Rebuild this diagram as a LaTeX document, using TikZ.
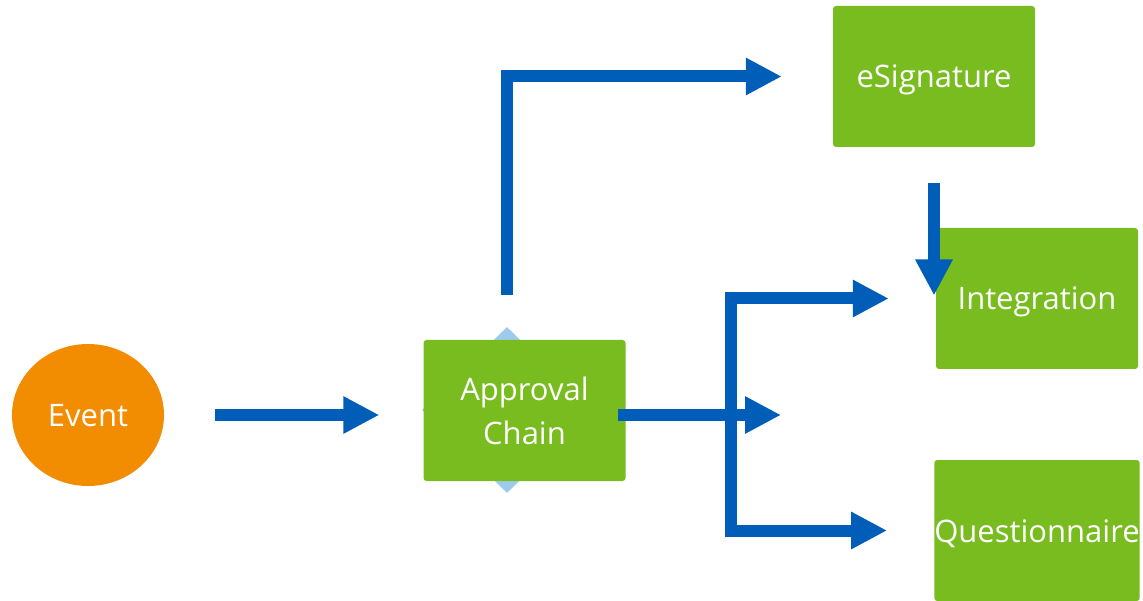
\documentclass[tikz,border=0pt]{standalone}
\usepackage{fontspec}
\setmainfont{Open Sans}
\usetikzlibrary{arrows.meta,shapes.geometric}
\definecolor{boxgreen}{RGB}{120,188,32}
\definecolor{evorange}{RGB}{242,140,0}
\definecolor{flowblue}{RGB}{0,94,184}
\definecolor{paleblue}{RGB}{157,203,238}

\begin{document}
\begin{tikzpicture}[x=1pt,y=-1pt,
  box/.style={rectangle,fill=boxgreen,rounded corners=3pt,minimum width=202pt,minimum height=141pt,inner sep=0pt,text=white,font=\fontsize{31}{44}\selectfont,align=center},
  oneline/.style={text height=31pt,text depth=8pt},
  flow/.style={draw=flowblue,line width=12pt,-{Triangle[length=36pt,width=35pt]}}]
\useasboundingbox (0,0) rectangle (1143,601);

% shapes
\node[ellipse,oneline,fill=evorange,minimum width=152pt,minimum height=142pt,inner sep=0pt,text=white,font=\fontsize{31}{44}\selectfont] (event) at (88,415) {Event};
\node[diamond,fill=paleblue,minimum width=170pt,minimum height=166pt,inner sep=0pt] (chaindia) at (507,410) {};
\node[box] (chain) at (524.5,410.5) {Approval\\Chain};
\node[box,oneline] (esign) at (934,76.5) {eSignature};
\node[box,oneline] (integ) at (1037,298.5) {Integration};
\node[box,oneline] (quest) at (1037,530.5) {Questionnaire};
\coordinate (split) at (731,415);
\coordinate (midend) at (781,415);

% connectors
\draw[flow,shorten <=51pt,shorten >=44pt] (event.east) -- (chain.west |- event.east);
\draw[flow,shorten <=32pt,shorten >=51pt] (chaindia.north) |- (esign.west);
\draw[flow,shorten <=-8pt] (chain.east |- event.east) -- (midend);
\draw[flow,shorten >=47pt] (split) |- (integ.west);
\draw[flow,shorten >=47pt] (split) |- (quest.west);
\draw[flow,shorten <=36pt,shorten >=3pt] (esign.south) -- (esign.south |- integ.center);

\end{tikzpicture}
\end{document}
